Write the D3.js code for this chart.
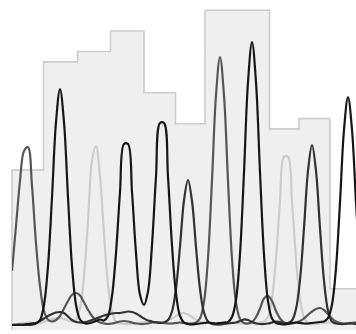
<!DOCTYPE html>
<html>
<head>
<meta charset="utf-8">
<script src="https://cdn.jsdelivr.net/npm/d3@7"></script>
<style>
  html, body { margin: 0; padding: 0; background: #fff; }
  svg { display: block; }
</style>
</head>
<body>
<div id="chart"></div>
<script>
// trace samples, one value per scan (scan 0 .. 87)
const traceG = [4,5,6,6,8,10,12,24,85,240,
  515,815,948,815,515,240,85,26,12,10,
  14,20,26,22,40,120,292,536,728,728,
  536,292,125,84,138,324,598,812,812,597,
  322,130,40,14,8,6,8,10,12,14,
  12,10,12,14,16,36,104,288,615,975,
  1136,975,615,286,100,30,12,8,6,8,
  12,14,12,10,10,12,14,16,18,32,
  86,232,495,785,916,785,495,229];

const traceA = [220,400,580,700,715,560,330,160,60,25,
  18,24,40,70,100,125,132,122,95,65,
  40,22,14,10,8,10,14,18,20,18,
  14,10,8,8,10,14,16,14,12,10,
  10,12,14,12,10,10,14,30,96,272,
  583,923,1076,922,581,270,94,28,12,10,
  16,35,70,110,120,100,60,30,14,10,
  10,14,20,30,45,58,68,72,64,48,
  30,18,12,10,10,12,14,14];

const traceT = [6,8,10,12,14,14,12,12,16,22,
  28,32,32,28,22,18,24,70,200,420,
  660,720,600,370,165,55,18,10,8,8,
  10,12,14,16,18,16,14,14,16,22,
  30,40,50,52,46,36,26,18,14,12,
  10,10,10,12,14,14,12,10,10,10,
  12,14,14,18,36,110,270,498,677,677,
  498,270,108,34,12,8,8,10,12,14,
  14,12,10,10,12,14,14,12];

const traceC = [4,4,4,4,4,5,10,20,30,40,
  48,54,56,52,38,24,16,14,14,18,
  24,30,36,42,46,50,52,52,55,58,
  56,50,40,30,22,18,14,12,14,24,
  58,150,318,502,584,500,316,148,54,18,
  8,6,6,8,10,12,14,20,26,24,
  16,10,8,8,10,14,18,16,12,12,
  22,68,184,392,620,724,620,391,181,62,
  18,10,8,8,10,10,8,6];

// base calls: peak scan position and quality value
const basePositions = [3.75, 12, 20.75, 28.5, 37.5, 44.25, 52.25, 60.25, 68.5, 75, 84];
const baseQuality = [31, 52, 54, 58, 46, 40, 62, 62, 39, 41, 8];

const width = 356;
const height = 334;

const svg = d3.select('#chart')
  .append('svg')
  .attr('width', width)
  .attr('height', height);

const x = d3.scaleLinear().domain([0, 86]).range([12, 356]).clamp(true);
const xTrace = d3.scaleLinear().domain([0, 86]).range([12, 356]);
const y = d3.scaleLinear().domain([0, 1200]).range([326, 26]);
const q = d3.scaleLinear().domain([0, 64]).range([330, 0]);

const defs = svg.append('defs');

defs.append('clipPath')
  .attr('id', 'plot-clip')
  .append('rect')
  .attr('x', 12)
  .attr('y', 0)
  .attr('width', width - 12)
  .attr('height', height);

// soften the lines a little, the reference is a blurry scan
defs.append('filter')
  .attr('id', 'soft')
  .attr('x', '-5%')
  .attr('y', '-5%')
  .attr('width', '110%')
  .attr('height', '110%')
  .append('feGaussianBlur')
  .attr('stdDeviation', 0.45);

// quality bars, one per base, edges half way between peaks
const edges = [];
basePositions.forEach((p, i) => {
  if (i === 0) edges.push(p - (basePositions[1] - p) / 2);
  else edges.push((basePositions[i - 1] + p) / 2);
});
const lastPos = basePositions[basePositions.length - 1];
const endEdge = lastPos + (lastPos - basePositions[basePositions.length - 2]) / 2;

const steps = baseQuality.map((v, i) => ({ x: edges[i], q: v }));
steps.push({ x: endEdge, q: baseQuality[baseQuality.length - 1] });

svg.append('path')
  .datum(steps)
  .attr('fill', '#efefef')
  .attr('d', d3.area()
    .curve(d3.curveStepAfter)
    .x((d) => x(d.x))
    .y0(q(0))
    .y1((d) => q(d.q)));

svg.append('path')
  .datum([{ x: edges[0], q: 0 }].concat(steps))
  .attr('fill', 'none')
  .attr('stroke', '#cdcdcd')
  .attr('stroke-width', 1.6)
  .attr('filter', 'url(#soft)')
  .attr('d', d3.line()
    .curve(d3.curveStepAfter)
    .x((d) => x(d.x))
    .y((d) => q(d.q)));

// traces
const traces = [
  { values: traceT, color: '#cccccc' },
  { values: traceA, color: '#575757' },
  { values: traceC, color: '#303030' },
  { values: traceG, color: '#161616' },
];

const line = d3.line()
  .curve(d3.curveCatmullRom.alpha(0.5))
  .x((d, i) => xTrace(i))
  .y((d) => y(d));

const g = svg.append('g')
  .attr('clip-path', 'url(#plot-clip)')
  .append('g')
  .attr('filter', 'url(#soft)');

g.selectAll('.trace')
  .data(traces)
  .enter()
  .append('path')
  .attr('class', 'trace')
  .attr('fill', 'none')
  .attr('stroke', (d) => d.color)
  .attr('stroke-width', 2.2)
  .attr('stroke-linejoin', 'round')
  .attr('d', (d) => line(d.values));
</script>
</body>
</html>
